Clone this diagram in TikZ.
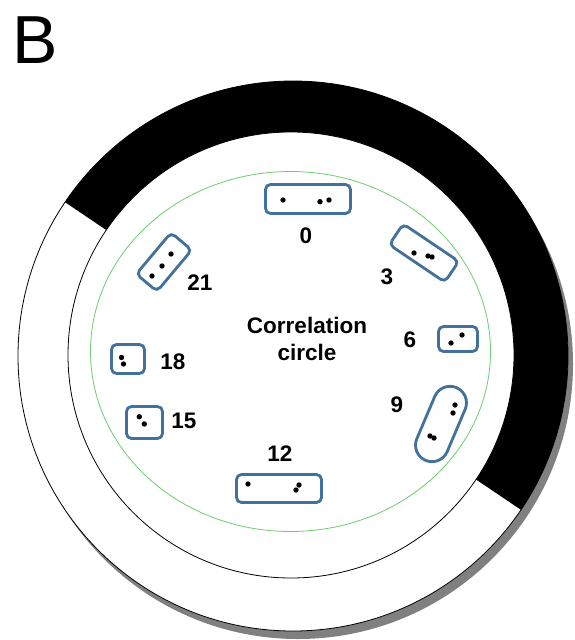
\documentclass[tikz,border=0pt]{standalone}
\usepackage{fontspec}
\setmainfont{Liberation Sans}
\definecolor{boxblue}{HTML}{41719C}
\definecolor{ringgreen}{RGB}{110,205,110}
\definecolor{shadowgray}{RGB}{128,128,128}
\begin{document}
\begin{tikzpicture}[x=1pt,y=-1pt,
  corrbox/.style={draw=boxblue, line width=2.8pt, rounded corners=5pt, inner sep=0pt, rectangle},
  lab/.style={font=\fontsize{22.5}{27}\selectfont\bfseries, inner sep=0pt},
  thinline/.style={line width=0.8pt}]
\useasboundingbox (0,0) rectangle (574,640);
% shadow and outer disc
\fill[shadowgray] (298,364) circle[radius=275];
\draw[thinline, fill=white] (293,356) circle[radius=275];
% black half ring
\begin{scope}
  \clip (293,356) circle[radius=275];
  \fill[black] (-39,132) -- (625,580) -- (849,248) -- (185,-200) -- cycle;
\end{scope}
% inner disc
\draw[thinline, fill=white] (291,355) circle[radius=223];
% green correlation circle
\draw[ringgreen, line width=0.8pt] (290.5,351.5) ellipse[x radius=200, y radius=180];
% title letter
\node[anchor=base west, inner sep=0pt, font=\fontsize{68}{80}\selectfont] (title) at (12,63) {B};
% centre text
\node[lab, align=center] (corr) at (307,339) {Correlation\\circle};
% boxes
\node[corrbox, minimum width=85pt, minimum height=29pt] (b0) at (308,199) {};
\node[corrbox, minimum width=67pt, minimum height=25pt, rotate=-34] (b3) at (424,253) {};
\node[corrbox, minimum width=39pt, minimum height=25pt] (b6) at (458,339) {};
\node[corrbox, minimum width=79pt, minimum height=33pt, rounded corners=16.5pt, rotate=67] (b9) at (441,424) {};
\node[corrbox, minimum width=85pt, minimum height=28pt] (b12) at (279,488.5) {};
\node[corrbox, minimum width=36pt, minimum height=32pt] (b15) at (144.5,422.5) {};
\node[corrbox, minimum width=33pt, minimum height=29pt] (b18) at (128,359) {};
\node[corrbox, minimum width=54pt, minimum height=27pt, rotate=50] (b21) at (164,262) {};
% labels
\node[lab] (l0) at (306,236) {0};
\node[lab] (l3) at (387,277) {3};
\node[lab] (l6) at (410,340) {6};
\node[lab] (l9) at (397,405) {9};
\node[lab] (l12) at (280,454) {12};
\node[lab] (l15) at (184,421) {15};
\node[lab] (l18) at (173,362) {18};
\node[lab] (l21) at (200,283) {21};
% dots
\foreach \p in {(283,200),(320,201.7),(329,200),
                (414,253),(428,256),(432,257),
                (451,343),(462,335),
                (455,405),(453,413),(430,436),(434,438),
                (248,484),(296,490),(299,485),
                (139.3,416.7),(144.3,424),
                (121.5,357.5),(123.5,364),
                (152,276),(162,266),(171,254)}
  \fill \p circle[radius=2.7];
\end{tikzpicture}
\end{document}
